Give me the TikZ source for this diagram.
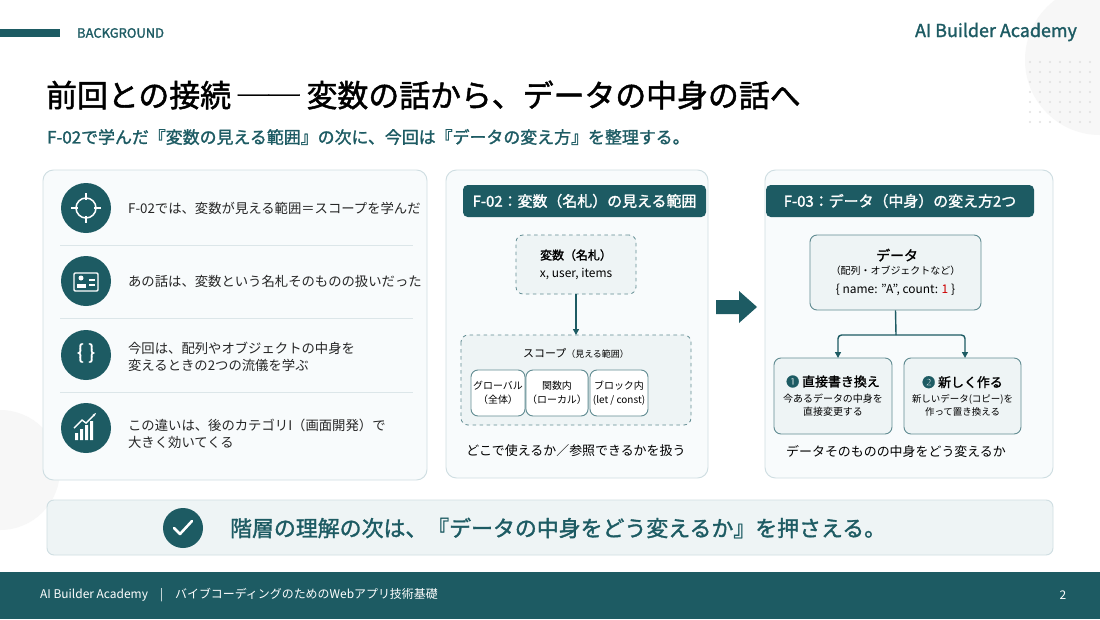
\documentclass[tikz,border=0pt]{standalone}
\usepackage{fontspec}
\setmainfont{Noto Sans CJK JP}
\newfontfamily\jpb{Noto Sans CJK JP}[FakeBold=1.5]
\usetikzlibrary{arrows.meta}
\definecolor{teal}{HTML}{1D5B63}
\definecolor{pbord}{HTML}{CFDEE2}
\definecolor{pfill}{HTML}{F8FBFC}
\definecolor{bfill}{HTML}{EEF4F5}
\definecolor{sep}{HTML}{DCE6E9}
\newcommand{\fs}[1]{\pgfmathsetmacro\fsa{#1*0.85}\pgfmathsetmacro\fsb{#1*1.1}\fontsize{\fsa pt}{\fsb pt}\selectfont}
\tikzset{x=0.03cm,y=-0.03cm,
 panel/.style={draw=pbord,fill=pfill,rounded corners=9pt,line width=0.8pt},
 hdr/.style={fill=teal,rounded corners=4pt,text=white,font=\jpb\fs{15}},
 ibox/.style={draw=teal!70,fill=bfill,rounded corners=6pt,line width=0.8pt},
 sbox/.style={ibox,fill=white,minimum width=54*0.03cm,minimum height=46*0.03cm,align=center,font=\fs{10},inner sep=1pt},
 dbox/.style={draw=teal!70,dashed,fill=bfill,rounded corners=6pt,line width=0.7pt},
 icon/.style={circle,fill=teal,minimum size=50*0.03cm,inner sep=0},
 row/.style={anchor=west,font=\fs{13.4},align=left,text=black!85},
 arr/.style={-{Triangle[length=5pt,width=5pt]},teal,line width=1.2pt}}
\begin{document}
\begin{tikzpicture}
\useasboundingbox (0,0) rectangle (1100,619);
\fill[white] (0,0) rectangle (1100,619);
\fill[black!3] (1100,60) circle (75);
\fill[black!3] (0,470) circle (60);
\foreach \i in {0,...,6}\foreach \j in {0,...,6}{\fill[black!12] (1030+\i*10,62+\j*10) circle (1.2);}
% header
\fill[teal] (0,29) rectangle (60,37);
\node[anchor=west,text=teal,font=\jpb\fs{13}] (bg) at (73,33) {BACKGROUND};
\node[anchor=east,text=teal,font=\jpb\fs{18}] (brand) at (1081,32) {AI Builder Academy};
\node[anchor=west,font=\jpb\fs{31}] (title) at (42,95) {前回との接続 ── 変数の話から、データの中身の話へ};
\node[anchor=west,text=teal,font=\jpb\fs{17}] (sub) at (43,137) {F-02で学んだ『変数の見える範囲』の次に、今回は『データの変え方』を整理する。};
% left panel
\draw[panel] (43,170) rectangle (427,480);
\foreach \y in {245,318,392}{\draw[sep,line width=0.8pt] (60,\y) -- (413,\y);}
\node[icon] (i1) at (86,208) {};
\draw[white,line width=1.3pt] (i1) circle (10);
\draw[white,line width=1.3pt] (86,193)--(86,200) (86,216)--(86,223) (71,208)--(78,208) (94,208)--(101,208);
\node[icon] (i2) at (86,281) {};
\draw[white,line width=1.2pt,rounded corners=1pt] (74,273) rectangle (98,291);
\fill[white] (81,278) circle (2.5); \fill[white] (76.5,288) rectangle (85.5,284);
\draw[white,line width=1.2pt] (89,280)--(95,280) (89,285)--(95,285);
\node[icon] (i3) at (86,355) {};
\node[text=white,font=\jpb\fs{20}] (i3t) at (86,353) {\{ \}};
\node[icon] (i4) at (86,428) {};
\fill[white] (75,433) rectangle (78,440) (80,429) rectangle (83,440) (85,425) rectangle (88,440) (90,421) rectangle (93,440);
\draw[white,line width=1.2pt,-{Stealth[length=3pt]}] (74,428)--(82,420)--(86,423)--(96,413);
\node[row] (t1) at (124,208) {F-02では、変数が見える範囲＝スコープを学んだ};
\node[row] (t2) at (124,281) {あの話は、変数という名札そのものの扱いだった};
\node[row] (t3) at (124,357) {今回は、配列やオブジェクトの中身を\\変えるときの2つの流儀を学ぶ};
\node[row] (t4) at (124,434) {この違いは、後のカテゴリI（画面開発）で\\大きく効いてくる};
% middle panel
\draw[panel] (446,170) rectangle (708,478);
\node[hdr,minimum width=243*0.03cm,minimum height=32*0.03cm] (h1) at (584.5,201) {F-02：変数（名札）の見える範囲};
\node[dbox,minimum width=120*0.03cm,minimum height=59*0.03cm,align=center,font=\fs{12}] (var) at (576,264.5) {{\jpb 変数（名札）}\\[2pt]x, user, items};
\draw[dbox] (461,335) rectangle (691,425);
\coordinate (scope) at (576,335);
\node[font=\fs{11}] (st) at (576,353) {スコープ{\fs{9}（見える範囲）}};
\node[sbox] (g) at (498,393) {グローバル\\[1pt]（全体）};
\node[sbox] (f) at (557,393) {関数内\\[1pt]（ローカル）};
\node[sbox,minimum width=58*0.03cm] (b) at (619,393) {ブロック内\\[1pt](let / const)};
\draw[arr] (var) -- (scope);
\node[font=\fs{13}] (c1) at (576,451) {どこで使えるか／参照できるかを扱う};
% big arrow
\fill[teal] (716,300) -- (739,300) -- (739,291) -- (757,307) -- (739,323) -- (739,314) -- (716,314) -- cycle;
% right panel
\draw[panel] (765,170) rectangle (1053,478);
\node[hdr,minimum width=268*0.03cm,minimum height=32*0.03cm] (h2) at (900,201) {F-03：データ（中身）の変え方2つ};
\node[ibox,minimum width=171*0.03cm,minimum height=75*0.03cm,align=center,font=\fs{12}] (data) at (895.5,272.5) {{\jpb\fs{14} データ}\\[-1pt]{\fs{10}（配列・オブジェクトなど）}\\[3pt]\{ name: "A", count: \textcolor{red!80!black}{1} \}};
\node[ibox,minimum width=118*0.03cm,minimum height=76*0.03cm,align=center,font=\fs{10},inner sep=1pt] (d1) at (833,396) {{\jpb\fs{13}\textcolor{teal}{❶}\ 直接書き換え}\\[3pt]今あるデータの中身を\\直接変更する};
\node[ibox,minimum width=117*0.03cm,minimum height=76*0.03cm,align=center,font=\fs{9.5},inner sep=1pt] (d2) at (962.5,396) {{\jpb\fs{13}\textcolor{teal}{❷}\ 新しく作る}\\[3pt]新しいデータ(コピー)を\\作って置き換える};
\coordinate (jn) at (896,335);
\coordinate (e1) at (838,358);
\coordinate (e2) at (965,358);
\draw[teal,line width=1.2pt] (data.south) -- (jn);
\draw[arr,rounded corners=3pt] (jn) -| (e1);
\draw[arr,rounded corners=3pt] (jn) -| (e2);
\node[font=\fs{13}] (c2) at (896,452) {データそのものの中身をどう変えるか};
% banner
\draw[draw=pbord,fill=bfill,rounded corners=6pt,line width=0.8pt] (47,500) rectangle (1053,555);
\node[circle,fill=teal,minimum size=40*0.03cm,inner sep=0] (ck) at (183,528) {};
\draw[white,line width=2.2pt,line cap=round,line join=round] (174,528)--(180,534)--(192,521);
\node[anchor=west,text=teal,font=\jpb\fs{22}] (bt) at (226,528) {階層の理解の次は、『データの中身をどう変えるか』を押さえる。};
% footer
\fill[teal] (0,572) rectangle (1100,619);
\node[anchor=west,text=white,font=\fs{12}] (ft) at (36,595) {AI Builder Academy\quad |\quad バイブコーディングのためのWebアプリ技術基礎};
\node[text=white,font=\fs{12}] (pg) at (1063,595) {2};
\end{tikzpicture}
\end{document}
